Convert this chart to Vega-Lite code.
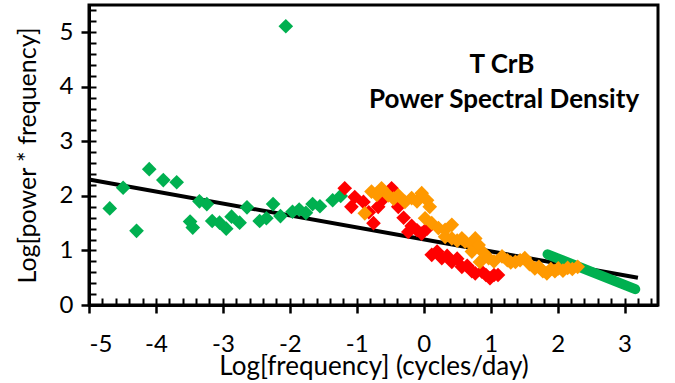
{
  "$schema": "https://vega.github.io/schema/vega-lite/v6.json",
  "width": 569,
  "height": 300,
  "autosize": {"type": "none"},
  "padding": {"left": 89, "top": 5, "right": 17, "bottom": 78},
  "background": "white",
  "config": {
    "view": {"stroke": "black", "strokeWidth": 3},
    "font": "Lato",
    "axis": {"grid": false, "labelFont": "Lato", "titleFont": "Lato", "labelColor": "black", "titleColor": "black", "domainColor": "black", "tickColor": "black"}
  },
  "datasets": {
    "pts": [
      {"series": "A", "x": -4.69, "y": 1.77}, {"series": "A", "x": -4.49, "y": 2.15}, {"series": "A", "x": -4.29, "y": 1.36},
      {"series": "A", "x": -4.10, "y": 2.49}, {"series": "A", "x": -3.89, "y": 2.29}, {"series": "A", "x": -3.69, "y": 2.25},
      {"series": "A", "x": -3.49, "y": 1.53}, {"series": "A", "x": -3.45, "y": 1.42}, {"series": "A", "x": -3.35, "y": 1.90},
      {"series": "A", "x": -3.24, "y": 1.85}, {"series": "A", "x": -3.16, "y": 1.54}, {"series": "A", "x": -3.05, "y": 1.51},
      {"series": "A", "x": -2.95, "y": 1.40}, {"series": "A", "x": -2.87, "y": 1.62}, {"series": "A", "x": -2.75, "y": 1.51},
      {"series": "A", "x": -2.64, "y": 1.79}, {"series": "A", "x": -2.45, "y": 1.54}, {"series": "A", "x": -2.35, "y": 1.59},
      {"series": "A", "x": -2.25, "y": 1.85}, {"series": "A", "x": -2.14, "y": 1.63}, {"series": "A", "x": -2.06, "y": 5.11},
      {"series": "A", "x": -1.96, "y": 1.71}, {"series": "A", "x": -1.86, "y": 1.75}, {"series": "A", "x": -1.76, "y": 1.69},
      {"series": "A", "x": -1.66, "y": 1.85}, {"series": "A", "x": -1.55, "y": 1.81}, {"series": "A", "x": -1.36, "y": 1.92},
      {"series": "A", "x": -1.24, "y": 2.0},
      {"series": "B", "x": -1.18, "y": 2.14}, {"series": "B", "x": -1.03, "y": 1.98}, {"series": "B", "x": -1.08, "y": 1.80},
      {"series": "B", "x": -0.90, "y": 1.89}, {"series": "B", "x": -0.82, "y": 1.70}, {"series": "B", "x": -0.75, "y": 1.50},
      {"series": "B", "x": -0.68, "y": 1.80}, {"series": "B", "x": -0.60, "y": 1.95}, {"series": "B", "x": -0.48, "y": 2.14},
      {"series": "B", "x": -0.42, "y": 2.00}, {"series": "B", "x": -0.38, "y": 1.80}, {"series": "B", "x": -0.30, "y": 1.60},
      {"series": "B", "x": -0.23, "y": 1.34}, {"series": "B", "x": -0.18, "y": 1.45}, {"series": "B", "x": -0.10, "y": 1.37},
      {"series": "B", "x": -0.03, "y": 1.31}, {"series": "B", "x": 0.05, "y": 1.40}, {"series": "B", "x": 0.12, "y": 0.92},
      {"series": "B", "x": 0.20, "y": 0.98}, {"series": "B", "x": 0.27, "y": 0.86}, {"series": "B", "x": 0.35, "y": 0.90},
      {"series": "B", "x": 0.42, "y": 0.79}, {"series": "B", "x": 0.50, "y": 0.85}, {"series": "B", "x": 0.57, "y": 0.70},
      {"series": "B", "x": 0.65, "y": 0.72}, {"series": "B", "x": 0.72, "y": 0.62}, {"series": "B", "x": 0.77, "y": 0.58},
      {"series": "B", "x": 0.87, "y": 0.61}, {"series": "B", "x": 0.93, "y": 0.55}, {"series": "B", "x": 0.99, "y": 0.49},
      {"series": "B", "x": 1.05, "y": 0.55}, {"series": "B", "x": 1.11, "y": 0.55},
      {"series": "C", "x": -0.88, "y": 1.68}, {"series": "C", "x": -0.78, "y": 2.08}, {"series": "C", "x": -0.70, "y": 2.02},
      {"series": "C", "x": -0.63, "y": 2.14}, {"series": "C", "x": -0.53, "y": 2.01}, {"series": "C", "x": -0.45, "y": 1.95},
      {"series": "C", "x": -0.38, "y": 2.01}, {"series": "C", "x": -0.28, "y": 1.89}, {"series": "C", "x": -0.18, "y": 1.96},
      {"series": "C", "x": -0.10, "y": 1.90}, {"series": "C", "x": -0.03, "y": 2.05}, {"series": "C", "x": 0.05, "y": 1.92},
      {"series": "C", "x": 0.09, "y": 1.80}, {"series": "C", "x": 0.02, "y": 1.59}, {"series": "C", "x": 0.12, "y": 1.50},
      {"series": "C", "x": 0.22, "y": 1.41}, {"series": "C", "x": 0.32, "y": 1.38}, {"series": "C", "x": 0.42, "y": 1.47},
      {"series": "C", "x": 0.32, "y": 1.25}, {"series": "C", "x": 0.42, "y": 1.22}, {"series": "C", "x": 0.50, "y": 1.18},
      {"series": "C", "x": 0.57, "y": 1.22}, {"series": "C", "x": 0.62, "y": 1.16}, {"series": "C", "x": 0.72, "y": 1.10},
      {"series": "C", "x": 0.77, "y": 1.22}, {"series": "C", "x": 0.72, "y": 0.98}, {"series": "C", "x": 0.82, "y": 1.10},
      {"series": "C", "x": 0.84, "y": 0.79}, {"series": "C", "x": 0.90, "y": 0.95}, {"series": "C", "x": 0.97, "y": 0.86},
      {"series": "C", "x": 1.05, "y": 0.80}, {"series": "C", "x": 1.17, "y": 0.89}, {"series": "C", "x": 1.25, "y": 0.82},
      {"series": "C", "x": 1.30, "y": 0.78}, {"series": "C", "x": 1.37, "y": 0.79}, {"series": "C", "x": 1.44, "y": 0.82},
      {"series": "C", "x": 1.51, "y": 0.86}, {"series": "C", "x": 1.58, "y": 0.75}, {"series": "C", "x": 1.66, "y": 0.67},
      {"series": "C", "x": 1.72, "y": 0.70}, {"series": "C", "x": 1.78, "y": 0.62}, {"series": "C", "x": 1.84, "y": 0.58},
      {"series": "C", "x": 1.90, "y": 0.66}, {"series": "C", "x": 1.96, "y": 0.62}, {"series": "C", "x": 2.01, "y": 0.67},
      {"series": "C", "x": 2.08, "y": 0.63}, {"series": "C", "x": 2.15, "y": 0.68}, {"series": "C", "x": 2.22, "y": 0.66},
      {"series": "C", "x": 2.30, "y": 0.70}
    ],
    "fit": [{"x": -5, "y": 2.3}, {"x": 3.2, "y": 0.5}],
    "greenline": [{"x": 1.85, "y": 0.93}, {"x": 2.5, "y": 0.61}, {"x": 3.16, "y": 0.29}],
    "notes": [
      {"x": 1.17, "y": 4.4, "text": "T CrB"},
      {"x": 1.2, "y": 3.76, "text": "Power Spectral Density"}
    ]
  },
  "layer": [
    {
      "data": {"name": "fit"},
      "mark": {"type": "line", "color": "black", "strokeWidth": 4},
      "encoding": {
        "x": {"field": "x", "type": "quantitative", "scale": {"domain": [-5, 3.5], "nice": false, "zero": false},
          "axis": {"orient": "bottom", "values": [-5, -4, -3, -2, -1, 0, 1, 2, 3], "labelExpr": "'' + datum.value", "tickSize": 8, "tickWidth": 2.5, "domainWidth": 3,
            "labelFontSize": 24, "labelPadding": 19, "title": "Log[frequency] (cycles/day)", "titleFontSize": 26, "titleFontWeight": "normal", "titlePadding": -3}},
        "y": {"field": "y", "type": "quantitative", "scale": {"domain": [0, 5.5], "nice": false, "zero": false},
          "axis": {"orient": "left", "values": [0, 1, 2, 3, 4, 5], "tickSize": 8, "tickWidth": 2.5, "domainWidth": 3,
            "labelFontSize": 24, "labelPadding": 8, "title": "Log[power * frequency]", "titleFontSize": 25, "titleFontWeight": "normal", "titlePadding": 19}}
      }
    },
    {
      "data": {"name": "greenline"},
      "mark": {"type": "line", "color": "#00B050", "strokeWidth": 10, "strokeCap": "round"},
      "encoding": {
        "x": {"field": "x", "type": "quantitative", "axis": null},
        "y": {"field": "y", "type": "quantitative", "axis": null}
      }
    },
    {
      "data": {"name": "pts"},
      "mark": {"type": "point", "shape": "diamond", "filled": true, "size": 215, "opacity": 1},
      "encoding": {
        "x": {"field": "x", "type": "quantitative",
          "axis": {"orient": "bottom", "values": [-5, -4.8, -4.6, -4.4, -4.2, -4, -3.8, -3.6, -3.4, -3.2, -3, -2.8, -2.6, -2.4, -2.2, -2, -1.8, -1.6, -1.4, -1.2, -1, -0.8, -0.6, -0.4, -0.2, 0, 0.2, 0.4, 0.6, 0.8, 1, 1.2, 1.4, 1.6, 1.8, 2, 2.2, 2.4, 2.6, 2.8, 3, 3.2, 3.4],
            "tickSize": -7, "tickWidth": 2, "labels": false, "domain": false, "title": null}},
        "y": {"field": "y", "type": "quantitative",
          "axis": {"orient": "left", "values": [0, 0.2, 0.4, 0.6, 0.8, 1, 1.2, 1.4, 1.6, 1.8, 2, 2.2, 2.4, 2.6, 2.8, 3, 3.2, 3.4, 3.6, 3.8, 4, 4.2, 4.4, 4.6, 4.8, 5, 5.2, 5.4],
            "tickSize": -7, "tickWidth": 2, "labels": false, "domain": false, "title": null}},
        "color": {"field": "series", "type": "nominal", "scale": {"domain": ["A", "B", "C"], "range": ["#00B050", "#FF0000", "#FF9900"]}, "legend": null}
      }
    },
    {
      "data": {"name": "notes"},
      "mark": {"type": "text", "font": "Lato", "fontWeight": "bold", "fontSize": 26, "align": "center", "baseline": "middle", "color": "black"},
      "encoding": {
        "x": {"field": "x", "type": "quantitative", "axis": null},
        "y": {"field": "y", "type": "quantitative", "axis": null},
        "text": {"field": "text"}
      }
    }
  ],
  "resolve": {"axis": {"x": "independent", "y": "independent"}}
}
